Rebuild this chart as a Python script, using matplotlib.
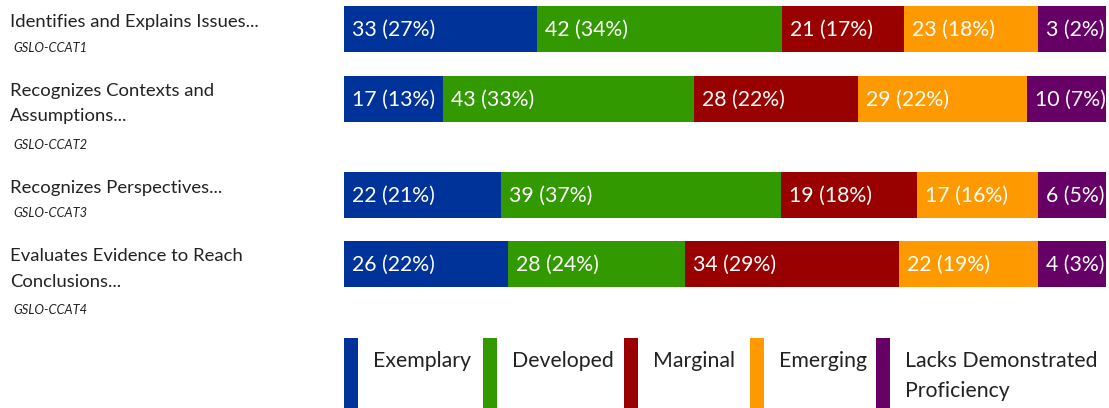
import matplotlib
matplotlib.use("Agg")
import matplotlib.pyplot as plt
from matplotlib.patches import Rectangle

plt.rcParams['font.family'] = ['Lato', 'DejaVu Sans']

# data
outcomes = ["Identifies and Explains Issues...",
            "Recognizes Contexts and\nAssumptions...",
            "Recognizes Perspectives...",
            "Evaluates Evidence to Reach\nConclusions..."]
codes = ["GSLO-CCAT1", "GSLO-CCAT2", "GSLO-CCAT3", "GSLO-CCAT4"]
levels = ["Exemplary", "Developed", "Marginal", "Emerging",
          "Lacks Demonstrated\nProficiency"]
colors = ["#003399", "#339900", "#990000", "#ff9900", "#660066"]
exemplary = [33, 17, 22, 26]
developed = [42, 43, 39, 28]
marginal = [21, 28, 19, 34]
emerging = [23, 29, 17, 22]
lacking = [3, 10, 6, 4]
percents = [[27, 34, 17, 18, 2],
            [13, 33, 22, 22, 7],
            [21, 37, 18, 16, 5],
            [22, 24, 29, 19, 3]]

W, H = 1109, 408
BAR_X0, BAR_X1 = 344, 1106
bar_px = BAR_X1 - BAR_X0
# layout: vertical centre of each bar and of the left hand texts (pixels from top)
bar_y = [29, 98.5, 195, 264]
title_y = [22, 103.5, 188, 269]
code_y = [48, 145, 213, 310]
bar_h = 46


def display_fracs(counts, labels):
    # small segments get a minimum width so their label fits, the rest shrink
    total = sum(counts)
    fr = [c / total for c in counts]
    mins = [(len(l) * 11.3) / bar_px for l in labels]
    fixed = [i for i in range(len(fr)) if fr[i] < mins[i]]
    fixed_sum = sum(mins[i] for i in fixed)
    rest = sum(fr[i] for i in range(len(fr)) if i not in fixed)
    out = []
    for i in range(len(fr)):
        if i in fixed:
            out.append(mins[i])
        else:
            out.append(fr[i] * (1 - fixed_sum) / rest)
    return out


fig = plt.figure(figsize=(W / 100, H / 100), dpi=100)

# pixel axes for texts and legend
bg = fig.add_axes([0, 0, 1, 1])
bg.set_xlim(0, W)
bg.set_ylim(H, 0)
bg.axis('off')

ax = fig.add_axes([BAR_X0 / W, 0, bar_px / W, 1])
ax.set_xlim(0, 1)
ax.set_ylim(H, 0)
ax.axis('off')

series = [exemplary, developed, marginal, emerging, lacking]
for r in range(len(outcomes)):
    counts = [s[r] for s in series]
    labels = [f"{c} ({p}%)" for c, p in zip(counts, percents[r])]
    fracs = display_fracs(counts, labels)
    left = 0
    for k in range(len(counts)):
        ax.barh(bar_y[r], fracs[k], left=left, height=bar_h,
                color=colors[k], linewidth=0)
        ax.text(left + 8 / bar_px, bar_y[r] + 1, labels[k], color='white',
                fontsize=15.3, va='center', ha='left')
        left += fracs[k]

    bg.text(10, title_y[r], outcomes[r], fontsize=13.3, color='#222222',
            va='center', ha='left', linespacing=1.72)
    bg.text(13, code_y[r], codes[r], fontsize=9.3, style='italic',
            color='#222222', va='center', ha='left')

# legend
leg_x = [344, 483, 624, 750, 876]
for x, c, name in zip(leg_x, colors, levels):
    bg.add_patch(Rectangle((x, 338), 14, 75, color=c, linewidth=0))
    nl = name.count("\n")
    bg.text(x + 29, 361 + 15 * nl, name, fontsize=15.3, color='#222222',
            va='center', ha='left', linespacing=1.6)

fig.savefig("out.png", dpi=100)
